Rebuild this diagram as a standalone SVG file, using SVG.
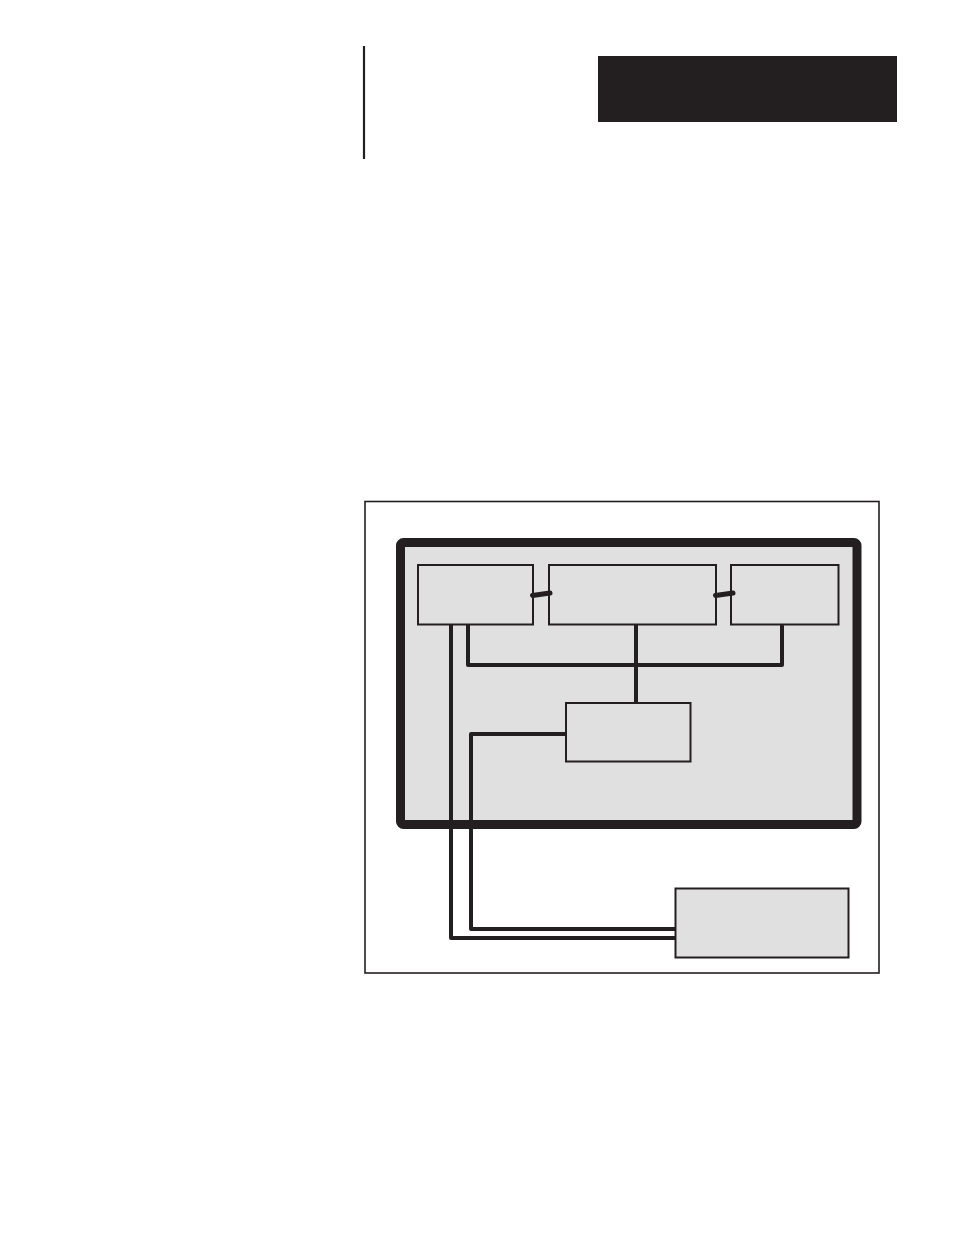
<svg xmlns="http://www.w3.org/2000/svg" width="954" height="1235" viewBox="0 0 954 1235">
<style>
.box{fill:#e0e0e0;stroke:#231f20;stroke-width:2}
.wire{fill:none;stroke:#231f20;stroke-width:4;stroke-linejoin:round;stroke-linecap:round}
.link{stroke:#231f20;stroke-width:5;stroke-linecap:round}
</style>
<rect width="954" height="1235" fill="#fff"/>
<g id="header">
<line x1="364" y1="46" x2="364" y2="159" stroke="#231f20" stroke-width="2.2"/>
<rect x="598" y="56" width="299" height="66" fill="#231f20"/>
</g>
<g id="frame">
<rect x="365" y="501.5" width="514" height="471.5" fill="none" stroke="#231f20" stroke-width="1.6"/>
</g>
<g id="enclosure">
<rect x="400.5" y="542.5" width="456.5" height="282" rx="3" fill="#e0e0e0" stroke="#231f20" stroke-width="9"/>
</g>
<g id="connectors">
<polyline class="wire" points="468,625 468,665 782,665 782,626"/>
<line class="wire" x1="636" y1="625" x2="636" y2="703" stroke-width="3.5"/>
<polyline class="wire" points="451,625 451,938 675,938"/>
<polyline class="wire" points="566,734 471,734 471,929 675,929"/>
</g>
<g id="nodeA"><rect class="box" x="418" y="565" width="115" height="59.5"/></g>
<g id="nodeB"><rect class="box" x="549" y="565" width="167" height="59.5"/></g>
<g id="nodeC"><rect class="box" x="731" y="565" width="107.5" height="59.5"/></g>
<g id="nodeD"><rect class="box" x="566" y="703" width="124.5" height="58.5"/></g>
<g id="nodeE"><rect class="box" x="675.5" y="888.5" width="173" height="69"/></g>
<g id="links">
<line class="link" x1="532.5" y1="595.5" x2="550" y2="593"/>
<line class="link" x1="715.5" y1="595.5" x2="733" y2="593"/>
</g>
</svg>
